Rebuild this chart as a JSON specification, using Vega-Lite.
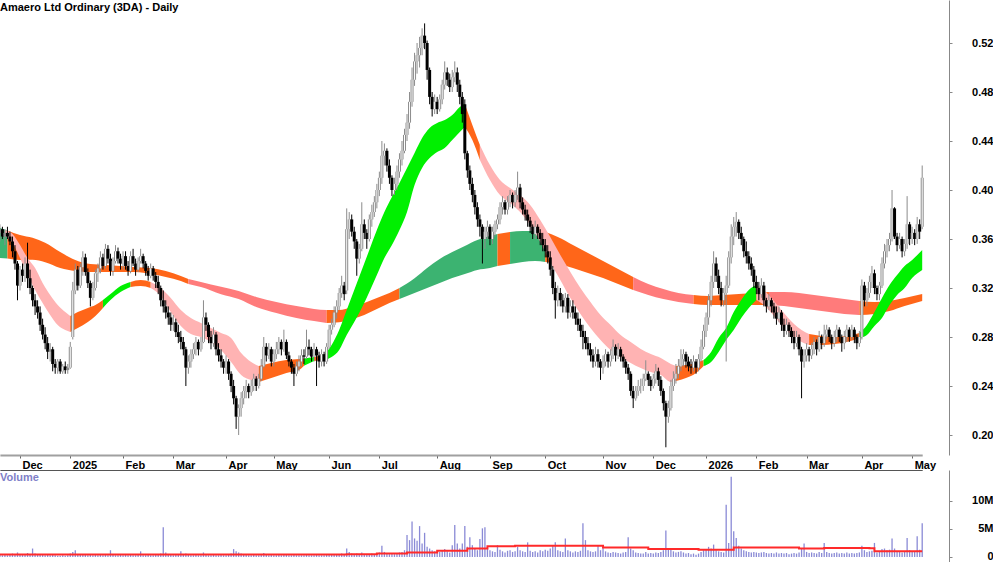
{
"$schema": "https://vega.github.io/schema/vega-lite/v6.json",
"padding": {"left": -5, "top": 0, "right": 0, "bottom": 0},
"background": "white",
"spacing": 0,
"config": {"view": {"stroke": null}, "axis": {"labelFont": "Liberation Sans", "labelFontWeight": "bold", "labelColor": "#000", "labelFontSize": 11, "grid": false, "minExtent": 0, "labelOverlap": false, "labelFlush": false}},
"datasets": {
"p": [
{"d":"2024-11-20","o":0.365,"h":0.372,"l":0.358,"c":0.368,"v":0.4},
{"d":"2024-11-21","o":0.368,"h":0.37,"l":0.36,"c":0.362,"v":0.3},
{"d":"2024-11-22","o":0.362,"h":0.368,"l":0.355,"c":0.365,"v":0.5},
{"d":"2024-11-25","o":0.365,"h":0.37,"l":0.36,"c":0.362,"v":0.3},
{"d":"2024-11-26","o":0.362,"h":0.366,"l":0.355,"c":0.358,"v":0.4},
{"d":"2024-11-27","o":0.358,"h":0.362,"l":0.345,"c":0.35,"v":0.6},
{"d":"2024-11-28","o":0.35,"h":0.355,"l":0.335,"c":0.34,"v":0.5},
{"d":"2024-11-29","o":0.34,"h":0.342,"l":0.31,"c":0.322,"v":0.8},
{"d":"2024-12-02","o":0.322,"h":0.338,"l":0.318,"c":0.335,"v":0.5},
{"d":"2024-12-03","o":0.335,"h":0.34,"l":0.325,"c":0.33,"v":0.4},
{"d":"2024-12-04","o":0.33,"h":0.345,"l":0.325,"c":0.34,"v":0.5},
{"d":"2024-12-05","o":0.34,"h":0.357,"l":0.32,"c":0.328,"v":0.7},
{"d":"2024-12-06","o":0.328,"h":0.335,"l":0.315,"c":0.32,"v":0.5},
{"d":"2024-12-09","o":0.32,"h":0.322,"l":0.305,"c":0.31,"v":1.5},
{"d":"2024-12-10","o":0.31,"h":0.315,"l":0.298,"c":0.305,"v":0.6},
{"d":"2024-12-11","o":0.305,"h":0.31,"l":0.295,"c":0.3,"v":0.4},
{"d":"2024-12-12","o":0.3,"h":0.305,"l":0.285,"c":0.29,"v":0.5},
{"d":"2024-12-13","o":0.29,"h":0.295,"l":0.278,"c":0.282,"v":0.4},
{"d":"2024-12-16","o":0.282,"h":0.288,"l":0.27,"c":0.275,"v":0.3},
{"d":"2024-12-17","o":0.275,"h":0.28,"l":0.262,"c":0.268,"v":0.5},
{"d":"2024-12-18","o":0.268,"h":0.275,"l":0.26,"c":0.27,"v":0.3},
{"d":"2024-12-19","o":0.27,"h":0.272,"l":0.252,"c":0.258,"v":0.4},
{"d":"2024-12-20","o":0.258,"h":0.262,"l":0.25,"c":0.255,"v":0.3},
{"d":"2024-12-23","o":0.255,"h":0.262,"l":0.25,"c":0.26,"v":0.2},
{"d":"2024-12-24","o":0.26,"h":0.262,"l":0.25,"c":0.252,"v":0.2},
{"d":"2024-12-27","o":0.252,"h":0.258,"l":0.25,"c":0.256,"v":0.3},
{"d":"2024-12-30","o":0.256,"h":0.26,"l":0.25,"c":0.253,"v":0.2},
{"d":"2024-12-31","o":0.253,"h":0.258,"l":0.25,"c":0.255,"v":0.3},
{"d":"2025-01-02","o":0.255,"h":0.276,"l":0.254,"c":0.272,"v":0.6},
{"d":"2025-01-03","o":0.28,"h":0.325,"l":0.278,"c":0.318,"v":0.9},
{"d":"2025-01-06","o":0.318,"h":0.34,"l":0.315,"c":0.335,"v":1.2},
{"d":"2025-01-07","o":0.335,"h":0.338,"l":0.318,"c":0.322,"v":0.5},
{"d":"2025-01-08","o":0.322,"h":0.34,"l":0.32,"c":0.337,"v":0.4},
{"d":"2025-01-09","o":0.337,"h":0.35,"l":0.33,"c":0.345,"v":0.5},
{"d":"2025-01-10","o":0.345,"h":0.348,"l":0.33,"c":0.333,"v":0.4},
{"d":"2025-01-13","o":0.333,"h":0.336,"l":0.32,"c":0.324,"v":0.3},
{"d":"2025-01-14","o":0.324,"h":0.326,"l":0.305,"c":0.312,"v":0.5},
{"d":"2025-01-15","o":0.312,"h":0.325,"l":0.31,"c":0.32,"v":0.3},
{"d":"2025-01-16","o":0.32,"h":0.335,"l":0.318,"c":0.332,"v":0.4},
{"d":"2025-01-17","o":0.332,"h":0.34,"l":0.325,"c":0.336,"v":0.3},
{"d":"2025-01-20","o":0.336,"h":0.35,"l":0.332,"c":0.345,"v":0.4},
{"d":"2025-01-21","o":0.345,"h":0.348,"l":0.335,"c":0.338,"v":0.3},
{"d":"2025-01-22","o":0.338,"h":0.356,"l":0.336,"c":0.352,"v":0.5},
{"d":"2025-01-23","o":0.352,"h":0.355,"l":0.34,"c":0.344,"v":0.3},
{"d":"2025-01-24","o":0.344,"h":0.348,"l":0.33,"c":0.334,"v":1.2},
{"d":"2025-01-28","o":0.334,"h":0.345,"l":0.33,"c":0.342,"v":0.4},
{"d":"2025-01-29","o":0.342,"h":0.355,"l":0.34,"c":0.35,"v":0.3},
{"d":"2025-01-30","o":0.35,"h":0.353,"l":0.34,"c":0.344,"v":0.3},
{"d":"2025-01-31","o":0.344,"h":0.348,"l":0.335,"c":0.34,"v":0.4},
{"d":"2025-02-03","o":0.34,"h":0.35,"l":0.335,"c":0.346,"v":0.3},
{"d":"2025-02-04","o":0.346,"h":0.35,"l":0.335,"c":0.338,"v":0.4},
{"d":"2025-02-05","o":0.338,"h":0.342,"l":0.33,"c":0.334,"v":0.3},
{"d":"2025-02-06","o":0.334,"h":0.35,"l":0.332,"c":0.346,"v":0.5},
{"d":"2025-02-07","o":0.346,"h":0.352,"l":0.338,"c":0.34,"v":0.3},
{"d":"2025-02-10","o":0.34,"h":0.344,"l":0.33,"c":0.335,"v":0.3},
{"d":"2025-02-11","o":0.335,"h":0.345,"l":0.333,"c":0.342,"v":0.4},
{"d":"2025-02-12","o":0.342,"h":0.352,"l":0.34,"c":0.346,"v":1.0},
{"d":"2025-02-13","o":0.346,"h":0.348,"l":0.336,"c":0.34,"v":0.3},
{"d":"2025-02-14","o":0.34,"h":0.342,"l":0.33,"c":0.334,"v":0.3},
{"d":"2025-02-17","o":0.334,"h":0.338,"l":0.326,"c":0.33,"v":0.4},
{"d":"2025-02-18","o":0.33,"h":0.34,"l":0.328,"c":0.336,"v":0.3},
{"d":"2025-02-19","o":0.336,"h":0.338,"l":0.326,"c":0.33,"v":0.3},
{"d":"2025-02-20","o":0.33,"h":0.333,"l":0.32,"c":0.325,"v":0.4},
{"d":"2025-02-21","o":0.325,"h":0.33,"l":0.315,"c":0.32,"v":0.5},
{"d":"2025-02-24","o":0.32,"h":0.322,"l":0.305,"c":0.31,"v":0.6},
{"d":"2025-02-25","o":0.31,"h":0.318,"l":0.3,"c":0.305,"v":5.3},
{"d":"2025-02-26","o":0.305,"h":0.31,"l":0.295,"c":0.3,"v":0.8},
{"d":"2025-02-27","o":0.3,"h":0.305,"l":0.29,"c":0.296,"v":0.5},
{"d":"2025-02-28","o":0.296,"h":0.3,"l":0.285,"c":0.29,"v":0.4},
{"d":"2025-03-03","o":0.29,"h":0.298,"l":0.285,"c":0.292,"v":0.3},
{"d":"2025-03-04","o":0.292,"h":0.295,"l":0.28,"c":0.284,"v":0.4},
{"d":"2025-03-05","o":0.284,"h":0.29,"l":0.275,"c":0.28,"v":0.5},
{"d":"2025-03-06","o":0.28,"h":0.285,"l":0.27,"c":0.276,"v":1.0},
{"d":"2025-03-07","o":0.276,"h":0.28,"l":0.265,"c":0.27,"v":0.4},
{"d":"2025-03-10","o":0.27,"h":0.272,"l":0.24,"c":0.255,"v":0.6},
{"d":"2025-03-11","o":0.255,"h":0.265,"l":0.25,"c":0.26,"v":0.4},
{"d":"2025-03-12","o":0.26,"h":0.27,"l":0.255,"c":0.266,"v":0.3},
{"d":"2025-03-13","o":0.266,"h":0.275,"l":0.262,"c":0.27,"v":0.3},
{"d":"2025-03-14","o":0.27,"h":0.28,"l":0.265,"c":0.276,"v":0.4},
{"d":"2025-03-17","o":0.276,"h":0.278,"l":0.265,"c":0.27,"v":0.3},
{"d":"2025-03-18","o":0.27,"h":0.28,"l":0.268,"c":0.276,"v":0.3},
{"d":"2025-03-19","o":0.276,"h":0.31,"l":0.275,"c":0.296,"v":0.8},
{"d":"2025-03-20","o":0.296,"h":0.3,"l":0.285,"c":0.29,"v":0.4},
{"d":"2025-03-21","o":0.29,"h":0.292,"l":0.275,"c":0.28,"v":0.3},
{"d":"2025-03-24","o":0.28,"h":0.285,"l":0.27,"c":0.275,"v":0.3},
{"d":"2025-03-25","o":0.275,"h":0.288,"l":0.272,"c":0.282,"v":0.4},
{"d":"2025-03-26","o":0.282,"h":0.284,"l":0.265,"c":0.27,"v":0.3},
{"d":"2025-03-27","o":0.27,"h":0.275,"l":0.26,"c":0.265,"v":0.3},
{"d":"2025-03-28","o":0.265,"h":0.27,"l":0.255,"c":0.26,"v":0.4},
{"d":"2025-03-31","o":0.26,"h":0.262,"l":0.25,"c":0.255,"v":0.3},
{"d":"2025-04-01","o":0.255,"h":0.265,"l":0.25,"c":0.26,"v":0.3},
{"d":"2025-04-02","o":0.26,"h":0.262,"l":0.245,"c":0.25,"v":0.4},
{"d":"2025-04-03","o":0.25,"h":0.252,"l":0.235,"c":0.24,"v":0.6},
{"d":"2025-04-04","o":0.24,"h":0.245,"l":0.225,"c":0.23,"v":1.4},
{"d":"2025-04-07","o":0.23,"h":0.232,"l":0.205,"c":0.215,"v":1.0},
{"d":"2025-04-08","o":0.215,"h":0.225,"l":0.2,"c":0.222,"v":0.8},
{"d":"2025-04-09","o":0.222,"h":0.235,"l":0.215,"c":0.23,"v":0.6},
{"d":"2025-04-10","o":0.23,"h":0.24,"l":0.225,"c":0.236,"v":0.5},
{"d":"2025-04-11","o":0.236,"h":0.245,"l":0.23,"c":0.24,"v":0.4},
{"d":"2025-04-14","o":0.24,"h":0.242,"l":0.23,"c":0.235,"v":0.3},
{"d":"2025-04-15","o":0.235,"h":0.245,"l":0.232,"c":0.24,"v":0.3},
{"d":"2025-04-16","o":0.24,"h":0.25,"l":0.236,"c":0.246,"v":0.4},
{"d":"2025-04-17","o":0.246,"h":0.248,"l":0.236,"c":0.24,"v":0.3},
{"d":"2025-04-22","o":0.24,"h":0.25,"l":0.238,"c":0.246,"v":0.3},
{"d":"2025-04-23","o":0.246,"h":0.262,"l":0.244,"c":0.256,"v":0.5},
{"d":"2025-04-24","o":0.256,"h":0.28,"l":0.255,"c":0.272,"v":0.7},
{"d":"2025-04-28","o":0.272,"h":0.275,"l":0.26,"c":0.265,"v":0.4},
{"d":"2025-04-29","o":0.265,"h":0.275,"l":0.262,"c":0.27,"v":0.3},
{"d":"2025-04-30","o":0.27,"h":0.272,"l":0.256,"c":0.26,"v":0.4},
{"d":"2025-05-01","o":0.26,"h":0.27,"l":0.256,"c":0.266,"v":0.3},
{"d":"2025-05-02","o":0.266,"h":0.276,"l":0.262,"c":0.27,"v":0.3},
{"d":"2025-05-05","o":0.27,"h":0.28,"l":0.266,"c":0.276,"v":0.4},
{"d":"2025-05-06","o":0.276,"h":0.278,"l":0.265,"c":0.27,"v":0.3},
{"d":"2025-05-07","o":0.27,"h":0.286,"l":0.268,"c":0.276,"v":0.5},
{"d":"2025-05-08","o":0.276,"h":0.278,"l":0.262,"c":0.265,"v":0.4},
{"d":"2025-05-09","o":0.265,"h":0.268,"l":0.256,"c":0.26,"v":0.3},
{"d":"2025-05-12","o":0.26,"h":0.262,"l":0.25,"c":0.255,"v":0.3},
{"d":"2025-05-13","o":0.255,"h":0.258,"l":0.24,"c":0.25,"v":0.4},
{"d":"2025-05-14","o":0.25,"h":0.26,"l":0.248,"c":0.256,"v":0.3},
{"d":"2025-05-15","o":0.256,"h":0.265,"l":0.252,"c":0.26,"v":0.3},
{"d":"2025-05-16","o":0.26,"h":0.27,"l":0.256,"c":0.265,"v":0.3},
{"d":"2025-05-19","o":0.265,"h":0.27,"l":0.258,"c":0.264,"v":0.3},
{"d":"2025-05-20","o":0.264,"h":0.286,"l":0.262,"c":0.272,"v":0.5},
{"d":"2025-05-21","o":0.272,"h":0.278,"l":0.265,"c":0.27,"v":0.3},
{"d":"2025-05-22","o":0.27,"h":0.272,"l":0.26,"c":0.264,"v":0.3},
{"d":"2025-05-23","o":0.264,"h":0.275,"l":0.26,"c":0.27,"v":0.3},
{"d":"2025-05-26","o":0.27,"h":0.272,"l":0.24,"c":0.265,"v":0.4},
{"d":"2025-05-27","o":0.265,"h":0.268,"l":0.255,"c":0.26,"v":0.3},
{"d":"2025-05-28","o":0.26,"h":0.27,"l":0.256,"c":0.266,"v":0.3},
{"d":"2025-05-29","o":0.266,"h":0.268,"l":0.256,"c":0.26,"v":0.3},
{"d":"2025-05-30","o":0.26,"h":0.275,"l":0.258,"c":0.272,"v":0.4},
{"d":"2025-06-02","o":0.272,"h":0.29,"l":0.27,"c":0.286,"v":0.5},
{"d":"2025-06-03","o":0.286,"h":0.295,"l":0.282,"c":0.29,"v":0.4},
{"d":"2025-06-04","o":0.29,"h":0.305,"l":0.288,"c":0.3,"v":0.5},
{"d":"2025-06-05","o":0.3,"h":0.31,"l":0.295,"c":0.305,"v":0.4},
{"d":"2025-06-06","o":0.305,"h":0.32,"l":0.302,"c":0.316,"v":0.5},
{"d":"2025-06-10","o":0.316,"h":0.33,"l":0.312,"c":0.322,"v":0.6},
{"d":"2025-06-11","o":0.322,"h":0.325,"l":0.31,"c":0.315,"v":0.4},
{"d":"2025-06-12","o":0.318,"h":0.385,"l":0.315,"c":0.368,"v":1.5},
{"d":"2025-06-13","o":0.368,"h":0.382,"l":0.36,"c":0.376,"v":0.9},
{"d":"2025-06-16","o":0.376,"h":0.38,"l":0.362,"c":0.366,"v":0.6},
{"d":"2025-06-17","o":0.366,"h":0.37,"l":0.352,"c":0.358,"v":0.5},
{"d":"2025-06-18","o":0.358,"h":0.36,"l":0.33,"c":0.344,"v":0.6},
{"d":"2025-06-19","o":0.344,"h":0.356,"l":0.34,"c":0.352,"v":0.4},
{"d":"2025-06-20","o":0.352,"h":0.39,"l":0.35,"c":0.372,"v":0.8},
{"d":"2025-06-23","o":0.372,"h":0.376,"l":0.36,"c":0.365,"v":0.5},
{"d":"2025-06-24","o":0.365,"h":0.368,"l":0.352,"c":0.36,"v":0.4},
{"d":"2025-06-25","o":0.36,"h":0.38,"l":0.358,"c":0.376,"v":0.5},
{"d":"2025-06-26","o":0.376,"h":0.388,"l":0.37,"c":0.382,"v":0.6},
{"d":"2025-06-27","o":0.382,"h":0.395,"l":0.378,"c":0.39,"v":0.5},
{"d":"2025-06-30","o":0.39,"h":0.405,"l":0.385,"c":0.4,"v":0.7},
{"d":"2025-07-01","o":0.4,"h":0.415,"l":0.395,"c":0.41,"v":0.8},
{"d":"2025-07-02","o":0.41,"h":0.44,"l":0.405,"c":0.428,"v":2.0},
{"d":"2025-07-03","o":0.428,"h":0.438,"l":0.42,"c":0.432,"v":0.9},
{"d":"2025-07-04","o":0.432,"h":0.434,"l":0.415,"c":0.42,"v":0.6},
{"d":"2025-07-07","o":0.42,"h":0.425,"l":0.405,"c":0.41,"v":0.5},
{"d":"2025-07-08","o":0.41,"h":0.412,"l":0.395,"c":0.4,"v":0.7},
{"d":"2025-07-09","o":0.4,"h":0.41,"l":0.396,"c":0.405,"v":0.5},
{"d":"2025-07-10","o":0.405,"h":0.42,"l":0.4,"c":0.415,"v":0.6},
{"d":"2025-07-11","o":0.415,"h":0.43,"l":0.41,"c":0.425,"v":0.8},
{"d":"2025-07-14","o":0.425,"h":0.44,"l":0.42,"c":0.432,"v":0.9},
{"d":"2025-07-15","o":0.432,"h":0.45,"l":0.43,"c":0.445,"v":1.2},
{"d":"2025-07-16","o":0.445,"h":0.462,"l":0.44,"c":0.455,"v":3.9},
{"d":"2025-07-17","o":0.455,"h":0.48,"l":0.45,"c":0.472,"v":3.0},
{"d":"2025-07-18","o":0.472,"h":0.5,"l":0.468,"c":0.49,"v":6.3},
{"d":"2025-07-21","o":0.49,"h":0.512,"l":0.485,"c":0.505,"v":3.3},
{"d":"2025-07-22","o":0.505,"h":0.52,"l":0.495,"c":0.51,"v":2.9},
{"d":"2025-07-23","o":0.51,"h":0.525,"l":0.5,"c":0.516,"v":5.5},
{"d":"2025-07-24","o":0.516,"h":0.532,"l":0.51,"c":0.526,"v":2.4},
{"d":"2025-07-25","o":0.526,"h":0.536,"l":0.515,"c":0.52,"v":4.3},
{"d":"2025-07-28","o":0.52,"h":0.522,"l":0.49,"c":0.498,"v":1.8},
{"d":"2025-07-29","o":0.498,"h":0.5,"l":0.47,"c":0.476,"v":1.5},
{"d":"2025-07-30","o":0.476,"h":0.48,"l":0.46,"c":0.466,"v":1.2},
{"d":"2025-07-31","o":0.466,"h":0.478,"l":0.462,"c":0.472,"v":1.0},
{"d":"2025-08-01","o":0.472,"h":0.476,"l":0.462,"c":0.466,"v":0.8},
{"d":"2025-08-04","o":0.466,"h":0.478,"l":0.464,"c":0.474,"v":0.9},
{"d":"2025-08-05","o":0.474,"h":0.49,"l":0.47,"c":0.486,"v":1.1},
{"d":"2025-08-06","o":0.486,"h":0.505,"l":0.482,"c":0.496,"v":1.4},
{"d":"2025-08-07","o":0.496,"h":0.5,"l":0.485,"c":0.49,"v":1.0},
{"d":"2025-08-08","o":0.49,"h":0.495,"l":0.48,"c":0.484,"v":0.8},
{"d":"2025-08-11","o":0.484,"h":0.498,"l":0.48,"c":0.492,"v":2.1},
{"d":"2025-08-12","o":0.492,"h":0.505,"l":0.488,"c":0.496,"v":5.7},
{"d":"2025-08-13","o":0.496,"h":0.5,"l":0.48,"c":0.486,"v":2.4},
{"d":"2025-08-14","o":0.486,"h":0.49,"l":0.47,"c":0.476,"v":1.5},
{"d":"2025-08-15","o":0.476,"h":0.48,"l":0.455,"c":0.462,"v":2.4},
{"d":"2025-08-18","o":0.47,"h":0.474,"l":0.425,"c":0.43,"v":5.5},
{"d":"2025-08-19","o":0.43,"h":0.432,"l":0.41,"c":0.416,"v":1.8},
{"d":"2025-08-20","o":0.416,"h":0.42,"l":0.4,"c":0.405,"v":3.5},
{"d":"2025-08-21","o":0.405,"h":0.41,"l":0.39,"c":0.396,"v":2.1},
{"d":"2025-08-22","o":0.396,"h":0.4,"l":0.38,"c":0.386,"v":1.5},
{"d":"2025-08-25","o":0.386,"h":0.39,"l":0.37,"c":0.376,"v":1.2},
{"d":"2025-08-26","o":0.376,"h":0.38,"l":0.362,"c":0.37,"v":3.2},
{"d":"2025-08-27","o":0.37,"h":0.372,"l":0.34,"c":0.36,"v":5.1},
{"d":"2025-08-28","o":0.36,"h":0.37,"l":0.352,"c":0.366,"v":5.3},
{"d":"2025-08-29","o":0.366,"h":0.375,"l":0.36,"c":0.37,"v":1.5},
{"d":"2025-09-01","o":0.37,"h":0.372,"l":0.355,"c":0.36,"v":1.2},
{"d":"2025-09-02","o":0.36,"h":0.37,"l":0.356,"c":0.366,"v":1.0},
{"d":"2025-09-03","o":0.366,"h":0.375,"l":0.362,"c":0.372,"v":0.9},
{"d":"2025-09-04","o":0.372,"h":0.38,"l":0.368,"c":0.376,"v":2.1},
{"d":"2025-09-05","o":0.376,"h":0.39,"l":0.372,"c":0.386,"v":1.3},
{"d":"2025-09-08","o":0.386,"h":0.395,"l":0.38,"c":0.39,"v":1.0},
{"d":"2025-09-09","o":0.39,"h":0.392,"l":0.38,"c":0.384,"v":0.8},
{"d":"2025-09-10","o":0.384,"h":0.395,"l":0.38,"c":0.39,"v":1.1},
{"d":"2025-09-11","o":0.39,"h":0.4,"l":0.386,"c":0.396,"v":1.2},
{"d":"2025-09-12","o":0.396,"h":0.398,"l":0.385,"c":0.39,"v":0.9},
{"d":"2025-09-15","o":0.39,"h":0.4,"l":0.386,"c":0.396,"v":1.0},
{"d":"2025-09-16","o":0.396,"h":0.415,"l":0.392,"c":0.402,"v":1.8},
{"d":"2025-09-17","o":0.402,"h":0.405,"l":0.385,"c":0.39,"v":1.2},
{"d":"2025-09-18","o":0.39,"h":0.394,"l":0.38,"c":0.384,"v":1.0},
{"d":"2025-09-19","o":0.384,"h":0.388,"l":0.375,"c":0.38,"v":0.9},
{"d":"2025-09-22","o":0.38,"h":0.384,"l":0.37,"c":0.375,"v":2.6},
{"d":"2025-09-23","o":0.375,"h":0.378,"l":0.365,"c":0.37,"v":1.1},
{"d":"2025-09-24","o":0.37,"h":0.372,"l":0.36,"c":0.364,"v":0.9},
{"d":"2025-09-25","o":0.364,"h":0.375,"l":0.36,"c":0.37,"v":1.0},
{"d":"2025-09-26","o":0.37,"h":0.372,"l":0.36,"c":0.365,"v":0.8},
{"d":"2025-09-29","o":0.365,"h":0.368,"l":0.355,"c":0.36,"v":1.2},
{"d":"2025-09-30","o":0.36,"h":0.365,"l":0.35,"c":0.355,"v":1.0},
{"d":"2025-10-01","o":0.355,"h":0.36,"l":0.345,"c":0.35,"v":1.3},
{"d":"2025-10-02","o":0.35,"h":0.355,"l":0.34,"c":0.345,"v":1.1},
{"d":"2025-10-03","o":0.345,"h":0.35,"l":0.33,"c":0.335,"v":1.5},
{"d":"2025-10-06","o":0.335,"h":0.338,"l":0.315,"c":0.32,"v":2.1},
{"d":"2025-10-07","o":0.32,"h":0.325,"l":0.295,"c":0.31,"v":2.6},
{"d":"2025-10-08","o":0.31,"h":0.322,"l":0.305,"c":0.316,"v":1.2},
{"d":"2025-10-09","o":0.316,"h":0.32,"l":0.305,"c":0.31,"v":1.0},
{"d":"2025-10-10","o":0.31,"h":0.315,"l":0.3,"c":0.305,"v":0.9},
{"d":"2025-10-13","o":0.305,"h":0.316,"l":0.3,"c":0.312,"v":3.3},
{"d":"2025-10-14","o":0.312,"h":0.315,"l":0.295,"c":0.3,"v":1.2},
{"d":"2025-10-15","o":0.3,"h":0.31,"l":0.296,"c":0.305,"v":1.0},
{"d":"2025-10-16","o":0.305,"h":0.31,"l":0.295,"c":0.3,"v":0.8},
{"d":"2025-10-17","o":0.3,"h":0.305,"l":0.29,"c":0.295,"v":1.0},
{"d":"2025-10-20","o":0.295,"h":0.3,"l":0.285,"c":0.29,"v":0.9},
{"d":"2025-10-21","o":0.29,"h":0.295,"l":0.28,"c":0.285,"v":1.1},
{"d":"2025-10-22","o":0.285,"h":0.29,"l":0.27,"c":0.28,"v":6.0},
{"d":"2025-10-23","o":0.28,"h":0.285,"l":0.27,"c":0.275,"v":3.0},
{"d":"2025-10-24","o":0.275,"h":0.28,"l":0.265,"c":0.27,"v":1.2},
{"d":"2025-10-27","o":0.27,"h":0.275,"l":0.26,"c":0.265,"v":1.0},
{"d":"2025-10-28","o":0.265,"h":0.27,"l":0.255,"c":0.26,"v":0.9},
{"d":"2025-10-29","o":0.26,"h":0.272,"l":0.256,"c":0.266,"v":1.0},
{"d":"2025-10-30","o":0.266,"h":0.27,"l":0.255,"c":0.26,"v":2.1},
{"d":"2025-10-31","o":0.26,"h":0.262,"l":0.245,"c":0.255,"v":1.2},
{"d":"2025-11-03","o":0.255,"h":0.265,"l":0.25,"c":0.26,"v":2.0},
{"d":"2025-11-04","o":0.26,"h":0.27,"l":0.256,"c":0.266,"v":1.0},
{"d":"2025-11-05","o":0.266,"h":0.268,"l":0.255,"c":0.26,"v":0.8},
{"d":"2025-11-06","o":0.26,"h":0.27,"l":0.256,"c":0.265,"v":0.7},
{"d":"2025-11-07","o":0.265,"h":0.278,"l":0.262,"c":0.272,"v":0.9},
{"d":"2025-11-10","o":0.272,"h":0.274,"l":0.26,"c":0.265,"v":0.8},
{"d":"2025-11-11","o":0.265,"h":0.275,"l":0.262,"c":0.27,"v":0.7},
{"d":"2025-11-12","o":0.27,"h":0.272,"l":0.26,"c":0.264,"v":0.6},
{"d":"2025-11-13","o":0.264,"h":0.266,"l":0.255,"c":0.26,"v":0.8},
{"d":"2025-11-14","o":0.26,"h":0.262,"l":0.25,"c":0.255,"v":0.9},
{"d":"2025-11-17","o":0.255,"h":0.258,"l":0.245,"c":0.25,"v":3.5},
{"d":"2025-11-18","o":0.25,"h":0.252,"l":0.232,"c":0.236,"v":1.5},
{"d":"2025-11-19","o":0.236,"h":0.24,"l":0.222,"c":0.23,"v":1.2},
{"d":"2025-11-20","o":0.23,"h":0.24,"l":0.228,"c":0.236,"v":0.8},
{"d":"2025-11-21","o":0.236,"h":0.245,"l":0.232,"c":0.24,"v":0.7},
{"d":"2025-11-24","o":0.24,"h":0.246,"l":0.234,"c":0.24,"v":0.6},
{"d":"2025-11-25","o":0.24,"h":0.25,"l":0.236,"c":0.246,"v":0.6},
{"d":"2025-11-26","o":0.246,"h":0.261,"l":0.244,"c":0.25,"v":0.9},
{"d":"2025-11-27","o":0.25,"h":0.252,"l":0.24,"c":0.245,"v":0.6},
{"d":"2025-11-28","o":0.245,"h":0.248,"l":0.236,"c":0.24,"v":0.7},
{"d":"2025-12-01","o":0.24,"h":0.25,"l":0.238,"c":0.246,"v":0.6},
{"d":"2025-12-02","o":0.246,"h":0.258,"l":0.242,"c":0.252,"v":0.8},
{"d":"2025-12-03","o":0.252,"h":0.255,"l":0.24,"c":0.245,"v":0.7},
{"d":"2025-12-04","o":0.245,"h":0.248,"l":0.232,"c":0.236,"v":0.9},
{"d":"2025-12-05","o":0.236,"h":0.238,"l":0.22,"c":0.226,"v":1.2},
{"d":"2025-12-08","o":0.226,"h":0.228,"l":0.19,"c":0.215,"v":4.7},
{"d":"2025-12-09","o":0.215,"h":0.228,"l":0.21,"c":0.222,"v":1.5},
{"d":"2025-12-10","o":0.222,"h":0.245,"l":0.22,"c":0.24,"v":1.3},
{"d":"2025-12-11","o":0.24,"h":0.252,"l":0.236,"c":0.246,"v":1.0},
{"d":"2025-12-12","o":0.246,"h":0.258,"l":0.242,"c":0.25,"v":0.8},
{"d":"2025-12-15","o":0.25,"h":0.262,"l":0.246,"c":0.256,"v":0.9},
{"d":"2025-12-16","o":0.256,"h":0.27,"l":0.252,"c":0.262,"v":1.0},
{"d":"2025-12-17","o":0.262,"h":0.27,"l":0.256,"c":0.266,"v":0.8},
{"d":"2025-12-18","o":0.266,"h":0.268,"l":0.255,"c":0.26,"v":0.6},
{"d":"2025-12-19","o":0.26,"h":0.264,"l":0.252,"c":0.256,"v":0.7},
{"d":"2025-12-22","o":0.256,"h":0.262,"l":0.25,"c":0.255,"v":0.5},
{"d":"2025-12-23","o":0.255,"h":0.265,"l":0.252,"c":0.26,"v":0.6},
{"d":"2025-12-24","o":0.26,"h":0.262,"l":0.25,"c":0.255,"v":0.4},
{"d":"2025-12-29","o":0.255,"h":0.266,"l":0.252,"c":0.262,"v":0.6},
{"d":"2025-12-30","o":0.262,"h":0.278,"l":0.26,"c":0.272,"v":0.9},
{"d":"2025-12-31","o":0.272,"h":0.29,"l":0.27,"c":0.285,"v":1.2},
{"d":"2026-01-02","o":0.285,"h":0.3,"l":0.28,"c":0.296,"v":1.3},
{"d":"2026-01-05","o":0.296,"h":0.315,"l":0.29,"c":0.31,"v":1.8},
{"d":"2026-01-06","o":0.31,"h":0.33,"l":0.305,"c":0.325,"v":1.5},
{"d":"2026-01-07","o":0.325,"h":0.35,"l":0.32,"c":0.34,"v":2.2},
{"d":"2026-01-08","o":0.34,"h":0.345,"l":0.325,"c":0.33,"v":1.2},
{"d":"2026-01-09","o":0.33,"h":0.335,"l":0.315,"c":0.32,"v":1.0},
{"d":"2026-01-12","o":0.32,"h":0.325,"l":0.305,"c":0.31,"v":0.9},
{"d":"2026-01-13","o":0.31,"h":0.32,"l":0.305,"c":0.316,"v":0.8},
{"d":"2026-01-14","o":0.316,"h":0.33,"l":0.26,"c":0.322,"v":9.3},
{"d":"2026-01-15","o":0.322,"h":0.35,"l":0.32,"c":0.345,"v":2.5},
{"d":"2026-01-16","o":0.345,"h":0.372,"l":0.34,"c":0.362,"v":14.3},
{"d":"2026-01-19","o":0.362,"h":0.378,"l":0.355,"c":0.37,"v":4.6},
{"d":"2026-01-20","o":0.37,"h":0.382,"l":0.362,"c":0.374,"v":3.4},
{"d":"2026-01-21","o":0.374,"h":0.376,"l":0.36,"c":0.365,"v":2.0},
{"d":"2026-01-22","o":0.365,"h":0.37,"l":0.355,"c":0.36,"v":1.5},
{"d":"2026-01-23","o":0.36,"h":0.362,"l":0.345,"c":0.35,"v":1.2},
{"d":"2026-01-27","o":0.35,"h":0.358,"l":0.34,"c":0.346,"v":1.0},
{"d":"2026-01-28","o":0.346,"h":0.35,"l":0.335,"c":0.34,"v":0.9},
{"d":"2026-01-29","o":0.34,"h":0.345,"l":0.33,"c":0.335,"v":0.8},
{"d":"2026-01-30","o":0.335,"h":0.338,"l":0.32,"c":0.325,"v":0.9},
{"d":"2026-02-02","o":0.325,"h":0.33,"l":0.315,"c":0.32,"v":0.8},
{"d":"2026-02-03","o":0.32,"h":0.325,"l":0.31,"c":0.315,"v":0.7},
{"d":"2026-02-04","o":0.315,"h":0.328,"l":0.312,"c":0.322,"v":0.8},
{"d":"2026-02-05","o":0.322,"h":0.325,"l":0.305,"c":0.31,"v":0.9},
{"d":"2026-02-06","o":0.31,"h":0.312,"l":0.3,"c":0.305,"v":0.7},
{"d":"2026-02-09","o":0.305,"h":0.315,"l":0.302,"c":0.31,"v":0.6},
{"d":"2026-02-10","o":0.31,"h":0.312,"l":0.3,"c":0.305,"v":0.7},
{"d":"2026-02-11","o":0.305,"h":0.308,"l":0.295,"c":0.3,"v":0.6},
{"d":"2026-02-12","o":0.3,"h":0.305,"l":0.29,"c":0.295,"v":0.8},
{"d":"2026-02-13","o":0.295,"h":0.305,"l":0.292,"c":0.3,"v":0.6},
{"d":"2026-02-16","o":0.3,"h":0.302,"l":0.285,"c":0.29,"v":0.7},
{"d":"2026-02-17","o":0.29,"h":0.295,"l":0.28,"c":0.285,"v":0.6},
{"d":"2026-02-18","o":0.285,"h":0.295,"l":0.282,"c":0.29,"v":0.7},
{"d":"2026-02-19","o":0.29,"h":0.292,"l":0.28,"c":0.285,"v":0.5},
{"d":"2026-02-20","o":0.285,"h":0.288,"l":0.275,"c":0.28,"v":0.6},
{"d":"2026-02-23","o":0.28,"h":0.285,"l":0.27,"c":0.275,"v":0.7},
{"d":"2026-02-24","o":0.275,"h":0.285,"l":0.272,"c":0.28,"v":0.6},
{"d":"2026-02-25","o":0.28,"h":0.282,"l":0.265,"c":0.27,"v":0.8},
{"d":"2026-02-26","o":0.27,"h":0.272,"l":0.23,"c":0.26,"v":1.6},
{"d":"2026-02-27","o":0.26,"h":0.27,"l":0.255,"c":0.265,"v":2.4},
{"d":"2026-03-02","o":0.265,"h":0.275,"l":0.26,"c":0.27,"v":0.9},
{"d":"2026-03-03","o":0.27,"h":0.272,"l":0.26,"c":0.265,"v":0.7},
{"d":"2026-03-04","o":0.265,"h":0.275,"l":0.262,"c":0.27,"v":0.8},
{"d":"2026-03-05","o":0.27,"h":0.28,"l":0.266,"c":0.276,"v":0.7},
{"d":"2026-03-06","o":0.276,"h":0.278,"l":0.265,"c":0.27,"v":0.6},
{"d":"2026-03-09","o":0.27,"h":0.285,"l":0.268,"c":0.28,"v":0.9},
{"d":"2026-03-10","o":0.28,"h":0.282,"l":0.27,"c":0.275,"v":0.7},
{"d":"2026-03-11","o":0.275,"h":0.29,"l":0.272,"c":0.282,"v":2.5},
{"d":"2026-03-12","o":0.282,"h":0.29,"l":0.278,"c":0.286,"v":0.9},
{"d":"2026-03-13","o":0.286,"h":0.288,"l":0.276,"c":0.28,"v":0.7},
{"d":"2026-03-16","o":0.28,"h":0.282,"l":0.27,"c":0.275,"v":0.6},
{"d":"2026-03-17","o":0.275,"h":0.285,"l":0.272,"c":0.28,"v":0.7},
{"d":"2026-03-18","o":0.28,"h":0.29,"l":0.276,"c":0.286,"v":0.8},
{"d":"2026-03-19","o":0.286,"h":0.288,"l":0.276,"c":0.28,"v":0.6},
{"d":"2026-03-20","o":0.28,"h":0.282,"l":0.268,"c":0.275,"v":0.7},
{"d":"2026-03-23","o":0.275,"h":0.285,"l":0.27,"c":0.28,"v":0.6},
{"d":"2026-03-24","o":0.28,"h":0.29,"l":0.276,"c":0.286,"v":0.8},
{"d":"2026-03-25","o":0.286,"h":0.288,"l":0.276,"c":0.28,"v":0.6},
{"d":"2026-03-26","o":0.28,"h":0.29,"l":0.278,"c":0.286,"v":0.7},
{"d":"2026-03-27","o":0.286,"h":0.288,"l":0.275,"c":0.28,"v":0.6},
{"d":"2026-03-30","o":0.28,"h":0.282,"l":0.27,"c":0.275,"v":0.7},
{"d":"2026-03-31","o":0.275,"h":0.285,"l":0.272,"c":0.28,"v":0.8},
{"d":"2026-04-01","o":0.28,"h":0.327,"l":0.278,"c":0.322,"v":2.0},
{"d":"2026-04-02","o":0.322,"h":0.325,"l":0.305,"c":0.31,"v":1.2},
{"d":"2026-04-07","o":0.31,"h":0.32,"l":0.305,"c":0.316,"v":0.9},
{"d":"2026-04-08","o":0.316,"h":0.33,"l":0.312,"c":0.325,"v":1.0},
{"d":"2026-04-09","o":0.325,"h":0.338,"l":0.32,"c":0.332,"v":1.1},
{"d":"2026-04-10","o":0.332,"h":0.335,"l":0.315,"c":0.32,"v":2.5},
{"d":"2026-04-13","o":0.32,"h":0.322,"l":0.31,"c":0.315,"v":0.8},
{"d":"2026-04-14","o":0.315,"h":0.325,"l":0.31,"c":0.322,"v":0.9},
{"d":"2026-04-15","o":0.322,"h":0.345,"l":0.32,"c":0.34,"v":1.4},
{"d":"2026-04-16","o":0.34,"h":0.356,"l":0.336,"c":0.35,"v":1.5},
{"d":"2026-04-17","o":0.35,"h":0.36,"l":0.345,"c":0.355,"v":1.2},
{"d":"2026-04-20","o":0.355,"h":0.365,"l":0.35,"c":0.36,"v":1.3},
{"d":"2026-04-21","o":0.36,"h":0.4,"l":0.358,"c":0.385,"v":3.3},
{"d":"2026-04-22","o":0.385,"h":0.386,"l":0.36,"c":0.362,"v":1.5},
{"d":"2026-04-23","o":0.362,"h":0.365,"l":0.35,"c":0.355,"v":1.0},
{"d":"2026-04-24","o":0.355,"h":0.365,"l":0.352,"c":0.36,"v":0.9},
{"d":"2026-04-27","o":0.36,"h":0.362,"l":0.345,"c":0.35,"v":0.8},
{"d":"2026-04-28","o":0.35,"h":0.36,"l":0.346,"c":0.356,"v":0.9},
{"d":"2026-04-29","o":0.356,"h":0.395,"l":0.352,"c":0.372,"v":3.4},
{"d":"2026-04-30","o":0.372,"h":0.374,"l":0.355,"c":0.36,"v":1.2},
{"d":"2026-05-01","o":0.36,"h":0.37,"l":0.356,"c":0.365,"v":1.0},
{"d":"2026-05-04","o":0.365,"h":0.368,"l":0.355,"c":0.36,"v":0.9},
{"d":"2026-05-05","o":0.36,"h":0.378,"l":0.356,"c":0.372,"v":3.7},
{"d":"2026-05-06","o":0.372,"h":0.376,"l":0.36,"c":0.366,"v":1.3},
{"d":"2026-05-07","o":0.37,"h":0.42,"l":0.368,"c":0.41,"v":6.0}
],
"b": [
{"d":"2024-11-20","s":1,"t":"long up","top":0.369,"bot":0.3445},
{"d":"2024-11-25","s":1,"t":"long up","top":0.367,"bot":0.344},
{"d":"2024-11-25","s":2,"t":"long flat","top":0.367,"bot":0.344},
{"d":"2024-12-02","s":2,"t":"long flat","top":0.3633,"bot":0.3429},
{"d":"2024-12-09","s":2,"t":"long flat","top":0.361,"bot":0.343},
{"d":"2024-12-16","s":2,"t":"long flat","top":0.357,"bot":0.341},
{"d":"2024-12-24","s":2,"t":"long flat","top":0.3494,"bot":0.3363},
{"d":"2025-01-06","s":2,"t":"long flat","top":0.3429,"bot":0.3339},
{"d":"2025-01-14","s":2,"t":"long flat","top":0.3396,"bot":0.3331},
{"d":"2025-01-22","s":2,"t":"long flat","top":0.3388,"bot":0.333},
{"d":"2025-01-31","s":2,"t":"long flat","top":0.338,"bot":0.333},
{"d":"2025-02-10","s":2,"t":"long flat","top":0.337,"bot":0.333},
{"d":"2025-02-18","s":2,"t":"long flat","top":0.3363,"bot":0.3314},
{"d":"2025-02-26","s":2,"t":"long flat","top":0.3339,"bot":0.329},
{"d":"2025-03-06","s":2,"t":"long flat","top":0.3298,"bot":0.3257},
{"d":"2025-03-11","s":2,"t":"long flat","top":0.3273,"bot":0.3233},
{"d":"2025-03-11","s":3,"t":"long down","top":0.3273,"bot":0.3233},
{"d":"2025-03-18","s":3,"t":"long down","top":0.3249,"bot":0.3208},
{"d":"2025-03-28","s":3,"t":"long down","top":0.321,"bot":0.315},
{"d":"2025-04-08","s":3,"t":"long down","top":0.3176,"bot":0.311},
{"d":"2025-04-17","s":3,"t":"long down","top":0.3127,"bot":0.3045},
{"d":"2025-05-02","s":3,"t":"long down","top":0.3086,"bot":0.2996},
{"d":"2025-05-14","s":3,"t":"long down","top":0.3053,"bot":0.2955},
{"d":"2025-05-23","s":3,"t":"long down","top":0.3029,"bot":0.293},
{"d":"2025-05-30","s":3,"t":"long down","top":0.302,"bot":0.2914},
{"d":"2025-05-30","s":4,"t":"long flat","top":0.302,"bot":0.2914},
{"d":"2025-06-06","s":4,"t":"long flat","top":0.302,"bot":0.292},
{"d":"2025-06-16","s":4,"t":"long flat","top":0.3045,"bot":0.2947},
{"d":"2025-06-23","s":4,"t":"long flat","top":0.3078,"bot":0.298},
{"d":"2025-06-30","s":4,"t":"long flat","top":0.3118,"bot":0.3029},
{"d":"2025-07-07","s":4,"t":"long flat","top":0.3159,"bot":0.3078},
{"d":"2025-07-11","s":4,"t":"long flat","top":0.32,"bot":0.311},
{"d":"2025-07-11","s":5,"t":"long up","top":0.32,"bot":0.311},
{"d":"2025-07-21","s":5,"t":"long up","top":0.328,"bot":0.316},
{"d":"2025-07-28","s":5,"t":"long up","top":0.3363,"bot":0.32},
{"d":"2025-08-04","s":5,"t":"long up","top":0.3437,"bot":0.3241},
{"d":"2025-08-11","s":5,"t":"long up","top":0.3494,"bot":0.3282},
{"d":"2025-08-18","s":5,"t":"long up","top":0.3543,"bot":0.3314},
{"d":"2025-08-25","s":5,"t":"long up","top":0.3592,"bot":0.3347},
{"d":"2025-09-01","s":5,"t":"long up","top":0.3624,"bot":0.3363},
{"d":"2025-09-04","s":5,"t":"long up","top":0.364,"bot":0.338},
{"d":"2025-09-04","s":6,"t":"long flat","top":0.364,"bot":0.338},
{"d":"2025-09-11","s":6,"t":"long flat","top":0.3657,"bot":0.3396},
{"d":"2025-09-11","s":7,"t":"long up","top":0.3657,"bot":0.3396},
{"d":"2025-09-18","s":7,"t":"long up","top":0.3665,"bot":0.3412},
{"d":"2025-09-25","s":7,"t":"long up","top":0.3665,"bot":0.342},
{"d":"2025-10-01","s":7,"t":"long up","top":0.3657,"bot":0.3412},
{"d":"2025-10-01","s":8,"t":"long flat","top":0.3657,"bot":0.3412},
{"d":"2025-10-08","s":8,"t":"long flat","top":0.3616,"bot":0.3396},
{"d":"2025-10-16","s":8,"t":"long flat","top":0.3551,"bot":0.3363},
{"d":"2025-10-24","s":8,"t":"long flat","top":0.3486,"bot":0.3322},
{"d":"2025-11-03","s":8,"t":"long flat","top":0.342,"bot":0.3282},
{"d":"2025-11-11","s":8,"t":"long flat","top":0.3355,"bot":0.3233},
{"d":"2025-11-19","s":8,"t":"long flat","top":0.329,"bot":0.3184},
{"d":"2025-11-19","s":9,"t":"long down","top":0.329,"bot":0.3184},
{"d":"2025-11-27","s":9,"t":"long down","top":0.3233,"bot":0.3143},
{"d":"2025-12-05","s":9,"t":"long down","top":0.3192,"bot":0.311},
{"d":"2025-12-15","s":9,"t":"long down","top":0.3159,"bot":0.3086},
{"d":"2025-12-23","s":9,"t":"long down","top":0.3143,"bot":0.307},
{"d":"2025-12-23","s":10,"t":"long flat","top":0.3143,"bot":0.307},
{"d":"2026-01-05","s":10,"t":"long flat","top":0.3135,"bot":0.3061},
{"d":"2026-01-13","s":10,"t":"long flat","top":0.3143,"bot":0.3061},
{"d":"2026-01-21","s":10,"t":"long flat","top":0.3151,"bot":0.3061},
{"d":"2026-01-30","s":10,"t":"long flat","top":0.3159,"bot":0.3061},
{"d":"2026-02-09","s":10,"t":"long flat","top":0.3167,"bot":0.3061},
{"d":"2026-02-09","s":11,"t":"long down","top":0.3167,"bot":0.3061},
{"d":"2026-02-17","s":11,"t":"long down","top":0.3167,"bot":0.3053},
{"d":"2026-02-25","s":11,"t":"long down","top":0.3159,"bot":0.3037},
{"d":"2026-03-05","s":11,"t":"long down","top":0.3143,"bot":0.302},
{"d":"2026-03-13","s":11,"t":"long down","top":0.3127,"bot":0.3004},
{"d":"2026-03-23","s":11,"t":"long down","top":0.311,"bot":0.2988},
{"d":"2026-03-31","s":11,"t":"long down","top":0.3094,"bot":0.298},
{"d":"2026-03-31","s":12,"t":"long flat","top":0.3094,"bot":0.298},
{"d":"2026-04-10","s":12,"t":"long flat","top":0.3086,"bot":0.2988},
{"d":"2026-04-20","s":12,"t":"long flat","top":0.3094,"bot":0.3012},
{"d":"2026-04-28","s":12,"t":"long flat","top":0.3118,"bot":0.3053},
{"d":"2026-05-07","s":12,"t":"long flat","top":0.3151,"bot":0.3094},
{"d":"2024-11-22","s":21,"t":"short down","top":0.3673,"bot":0.3624},
{"d":"2024-11-27","s":21,"t":"short down","top":0.3641,"bot":0.3567},
{"d":"2024-12-02","s":21,"t":"short down","top":0.3551,"bot":0.3445},
{"d":"2024-12-05","s":21,"t":"short down","top":0.3445,"bot":0.3306},
{"d":"2024-12-10","s":21,"t":"short down","top":0.3363,"bot":0.3184},
{"d":"2024-12-13","s":21,"t":"short down","top":0.3241,"bot":0.3078},
{"d":"2024-12-18","s":21,"t":"short down","top":0.3143,"bot":0.298},
{"d":"2024-12-23","s":21,"t":"short down","top":0.3061,"bot":0.2898},
{"d":"2024-12-30","s":21,"t":"short down","top":0.3004,"bot":0.2857},
{"d":"2025-01-02","s":21,"t":"short down","top":0.2971,"bot":0.2841},
{"d":"2025-01-02","s":22,"t":"short flat","top":0.2971,"bot":0.2841},
{"d":"2025-01-07","s":22,"t":"short flat","top":0.3004,"bot":0.2873},
{"d":"2025-01-13","s":22,"t":"short flat","top":0.3037,"bot":0.2922},
{"d":"2025-01-16","s":22,"t":"short flat","top":0.3061,"bot":0.2971},
{"d":"2025-01-21","s":22,"t":"short flat","top":0.3102,"bot":0.3037},
{"d":"2025-01-21","s":23,"t":"short up","top":0.3102,"bot":0.3037},
{"d":"2025-01-24","s":23,"t":"short up","top":0.3151,"bot":0.3102},
{"d":"2025-01-31","s":23,"t":"short up","top":0.3216,"bot":0.3167},
{"d":"2025-02-06","s":23,"t":"short up","top":0.3249,"bot":0.3208},
{"d":"2025-02-06","s":24,"t":"short flat","top":0.3249,"bot":0.3208},
{"d":"2025-02-12","s":24,"t":"short flat","top":0.3265,"bot":0.3216},
{"d":"2025-02-18","s":24,"t":"short flat","top":0.3249,"bot":0.32},
{"d":"2025-02-18","s":25,"t":"short down","top":0.3249,"bot":0.32},
{"d":"2025-02-24","s":25,"t":"short down","top":0.32,"bot":0.3135},
{"d":"2025-02-28","s":25,"t":"short down","top":0.3118,"bot":0.3004},
{"d":"2025-03-06","s":25,"t":"short down","top":0.302,"bot":0.289},
{"d":"2025-03-12","s":25,"t":"short down","top":0.2955,"bot":0.2824},
{"d":"2025-03-18","s":25,"t":"short down","top":0.2914,"bot":0.28},
{"d":"2025-03-24","s":25,"t":"short down","top":0.2873,"bot":0.2759},
{"d":"2025-03-28","s":25,"t":"short down","top":0.2833,"bot":0.2694},
{"d":"2025-04-03","s":25,"t":"short down","top":0.2792,"bot":0.2596},
{"d":"2025-04-09","s":25,"t":"short down","top":0.2669,"bot":0.249},
{"d":"2025-04-15","s":25,"t":"short down","top":0.2596,"bot":0.2449},
{"d":"2025-04-22","s":25,"t":"short down","top":0.2563,"bot":0.2433},
{"d":"2025-04-22","s":26,"t":"short flat","top":0.2563,"bot":0.2433},
{"d":"2025-04-30","s":26,"t":"short flat","top":0.2588,"bot":0.2465},
{"d":"2025-05-08","s":26,"t":"short flat","top":0.2612,"bot":0.2506},
{"d":"2025-05-15","s":26,"t":"short flat","top":0.262,"bot":0.2531},
{"d":"2025-05-19","s":26,"t":"short flat","top":0.2625,"bot":0.2565},
{"d":"2025-05-19","s":27,"t":"short up","top":0.2625,"bot":0.2565},
{"d":"2025-05-23","s":27,"t":"short up","top":0.2637,"bot":0.2604},
{"d":"2025-05-23","s":28,"t":"short flat","top":0.2637,"bot":0.2604},
{"d":"2025-05-29","s":28,"t":"short flat","top":0.2653,"bot":0.2612},
{"d":"2025-05-29","s":29,"t":"short up","top":0.2653,"bot":0.2612},
{"d":"2025-06-03","s":29,"t":"short up","top":0.2735,"bot":0.2637},
{"d":"2025-06-06","s":29,"t":"short up","top":0.2857,"bot":0.2694},
{"d":"2025-06-12","s":29,"t":"short up","top":0.302,"bot":0.2816},
{"d":"2025-06-17","s":29,"t":"short up","top":0.3184,"bot":0.2922},
{"d":"2025-06-20","s":29,"t":"short up","top":0.3347,"bot":0.3037},
{"d":"2025-06-25","s":29,"t":"short up","top":0.351,"bot":0.3167},
{"d":"2025-06-30","s":29,"t":"short up","top":0.3673,"bot":0.3306},
{"d":"2025-07-03","s":29,"t":"short up","top":0.382,"bot":0.3445},
{"d":"2025-07-08","s":29,"t":"short up","top":0.3943,"bot":0.3551},
{"d":"2025-07-11","s":29,"t":"short up","top":0.4057,"bot":0.3673},
{"d":"2025-07-16","s":29,"t":"short up","top":0.418,"bot":0.382},
{"d":"2025-07-21","s":29,"t":"short up","top":0.4302,"bot":0.4041},
{"d":"2025-07-24","s":29,"t":"short up","top":0.4424,"bot":0.418},
{"d":"2025-07-29","s":29,"t":"short up","top":0.4506,"bot":0.4261},
{"d":"2025-08-01","s":29,"t":"short up","top":0.4547,"bot":0.431},
{"d":"2025-08-06","s":29,"t":"short up","top":0.4571,"bot":0.4343},
{"d":"2025-08-11","s":29,"t":"short up","top":0.4612,"bot":0.4408},
{"d":"2025-08-14","s":29,"t":"short up","top":0.4678,"bot":0.4473},
{"d":"2025-08-18","s":29,"t":"short up","top":0.4702,"bot":0.4514},
{"d":"2025-08-18","s":30,"t":"short flat","top":0.4702,"bot":0.4514},
{"d":"2025-08-21","s":30,"t":"short flat","top":0.4531,"bot":0.4408},
{"d":"2025-08-26","s":30,"t":"short flat","top":0.4367,"bot":0.4245},
{"d":"2025-08-26","s":31,"t":"short down","top":0.4367,"bot":0.4245},
{"d":"2025-09-01","s":31,"t":"short down","top":0.4204,"bot":0.4082},
{"d":"2025-09-05","s":31,"t":"short down","top":0.4082,"bot":0.3959},
{"d":"2025-09-11","s":31,"t":"short down","top":0.4016,"bot":0.3894},
{"d":"2025-09-17","s":31,"t":"short down","top":0.3959,"bot":0.382},
{"d":"2025-09-23","s":31,"t":"short down","top":0.3878,"bot":0.3714},
{"d":"2025-09-29","s":31,"t":"short down","top":0.3755,"bot":0.3576},
{"d":"2025-10-03","s":31,"t":"short down","top":0.3616,"bot":0.3412},
{"d":"2025-10-09","s":31,"t":"short down","top":0.3469,"bot":0.3265},
{"d":"2025-10-15","s":31,"t":"short down","top":0.3331,"bot":0.3118},
{"d":"2025-10-21","s":31,"t":"short down","top":0.32,"bot":0.2988},
{"d":"2025-10-27","s":31,"t":"short down","top":0.3086,"bot":0.2873},
{"d":"2025-10-31","s":31,"t":"short down","top":0.298,"bot":0.2776},
{"d":"2025-11-06","s":31,"t":"short down","top":0.2898,"bot":0.2694},
{"d":"2025-11-12","s":31,"t":"short down","top":0.2816,"bot":0.2637},
{"d":"2025-11-18","s":31,"t":"short down","top":0.2759,"bot":0.2588},
{"d":"2025-11-24","s":31,"t":"short down","top":0.2702,"bot":0.2547},
{"d":"2025-11-28","s":31,"t":"short down","top":0.2661,"bot":0.2514},
{"d":"2025-12-04","s":31,"t":"short down","top":0.2629,"bot":0.249},
{"d":"2025-12-10","s":31,"t":"short down","top":0.258,"bot":0.2433},
{"d":"2025-12-12","s":31,"t":"short down","top":0.2563,"bot":0.2441},
{"d":"2025-12-12","s":32,"t":"short flat","top":0.2563,"bot":0.2441},
{"d":"2025-12-18","s":32,"t":"short flat","top":0.2571,"bot":0.2465},
{"d":"2025-12-24","s":32,"t":"short flat","top":0.2588,"bot":0.2506},
{"d":"2025-12-31","s":32,"t":"short flat","top":0.2612,"bot":0.2563},
{"d":"2025-12-31","s":33,"t":"short up","top":0.2612,"bot":0.2563},
{"d":"2026-01-06","s":33,"t":"short up","top":0.2678,"bot":0.2596},
{"d":"2026-01-09","s":33,"t":"short up","top":0.2792,"bot":0.2678},
{"d":"2026-01-14","s":33,"t":"short up","top":0.2873,"bot":0.2776},
{"d":"2026-01-19","s":33,"t":"short up","top":0.3004,"bot":0.2857},
{"d":"2026-01-22","s":33,"t":"short up","top":0.3102,"bot":0.2955},
{"d":"2026-01-28","s":33,"t":"short up","top":0.3184,"bot":0.3037},
{"d":"2026-02-02","s":33,"t":"short up","top":0.3224,"bot":0.3102},
{"d":"2026-02-02","s":34,"t":"short down","top":0.3224,"bot":0.3102},
{"d":"2026-02-05","s":34,"t":"short down","top":0.3184,"bot":0.3061},
{"d":"2026-02-10","s":34,"t":"short down","top":0.3118,"bot":0.2996},
{"d":"2026-02-13","s":34,"t":"short down","top":0.3045,"bot":0.2922},
{"d":"2026-02-18","s":34,"t":"short down","top":0.2971,"bot":0.2857},
{"d":"2026-02-23","s":34,"t":"short down","top":0.2906,"bot":0.28},
{"d":"2026-02-26","s":34,"t":"short down","top":0.2857,"bot":0.2759},
{"d":"2026-03-03","s":34,"t":"short down","top":0.2824,"bot":0.2735},
{"d":"2026-03-03","s":35,"t":"short flat","top":0.2824,"bot":0.2735},
{"d":"2026-03-10","s":35,"t":"short flat","top":0.2808,"bot":0.2735},
{"d":"2026-03-17","s":35,"t":"short flat","top":0.28,"bot":0.2743},
{"d":"2026-03-24","s":35,"t":"short flat","top":0.2808,"bot":0.2759},
{"d":"2026-03-31","s":35,"t":"short flat","top":0.2833,"bot":0.2792},
{"d":"2026-03-31","s":36,"t":"short up","top":0.2833,"bot":0.2792},
{"d":"2026-04-07","s":36,"t":"short up","top":0.2898,"bot":0.2816},
{"d":"2026-04-10","s":36,"t":"short up","top":0.3004,"bot":0.289},
{"d":"2026-04-15","s":36,"t":"short up","top":0.3118,"bot":0.2955},
{"d":"2026-04-20","s":36,"t":"short up","top":0.3224,"bot":0.3061},
{"d":"2026-04-23","s":36,"t":"short up","top":0.3306,"bot":0.3143},
{"d":"2026-04-28","s":36,"t":"short up","top":0.338,"bot":0.32},
{"d":"2026-05-01","s":36,"t":"short up","top":0.3429,"bot":0.3282},
{"d":"2026-05-07","s":36,"t":"short up","top":0.351,"bot":0.3347}
],
"m": [
{"d":"2024-11-20","m":0.42},
{"d":"2025-06-12","m":0.5},
{"d":"2025-06-30","m":0.6},
{"d":"2025-07-16","m":0.8},
{"d":"2025-08-01","m":1.1},
{"d":"2025-08-19","m":1.5},
{"d":"2025-08-29","m":1.9},
{"d":"2025-09-15","m":2.0},
{"d":"2025-10-28","m":2.0},
{"d":"2025-11-03","m":1.7},
{"d":"2025-11-27","m":1.4},
{"d":"2025-12-29","m":1.3},
{"d":"2026-01-19","m":1.7},
{"d":"2026-02-13","m":1.7},
{"d":"2026-02-25","m":1.5},
{"d":"2026-03-11","m":1.6},
{"d":"2026-04-08","m":1.55},
{"d":"2026-04-10","m":1.0},
{"d":"2026-05-07","m":1.0}
]
},
"vconcat": [
{
"width": 951, "height": 455,
"title": {"text": "Amaero Ltd Ordinary (3DA) - Daily", "anchor": "start", "frame": "group", "offset": -13, "dx": 2, "fontSize": 11, "fontWeight": "bold", "font": "Liberation Sans", "color": "#000"},
"encoding": {"x": {"field": "d", "type": "ordinal", "title": null, "scale": {"type": "point", "padding": 0, "range": [1.9, 924.2]},
 "axis": {"orient": "bottom", "title": null, "values": ["2024-12-02","2025-01-02","2025-02-03","2025-03-03","2025-04-01","2025-05-01","2025-06-02","2025-07-01","2025-08-01","2025-09-01","2025-10-01","2025-11-03","2025-12-01","2026-01-02","2026-02-02","2026-03-02","2026-04-01","2026-05-01"],
 "labelExpr": "slice(datum.value,5,7)=='01' ? slice(datum.value,0,4) : ['Jan','Feb','Mar','Apr','May','Jun','Jul','Aug','Sep','Oct','Nov','Dec'][toNumber(slice(datum.value,5,7))-1]",
 "labelAlign": "left", "labelOffset": 2, "labelAngle": 0, "labelPadding": 1, "tickSize": 3, "tickColor": "#666", "domainColor": "#a0a0a0", "domainWidth": 2}}},
"layer": [
{"data": {"name": "b"}, "transform": [{"filter": "datum.s < 20"}],
 "mark": {"type": "area", "interpolate": "monotone", "opacity": 1},
 "encoding": {"y": {"field": "top", "type": "quantitative", "title": null, "stack": null, "scale": {"domain": [0.1837, 0.5551], "nice": false, "zero": false},
   "axis": {"orient": "right", "title": null, "values": [0.2,0.22,0.24,0.26,0.28,0.3,0.32,0.34,0.36,0.38,0.4,0.42,0.44,0.46,0.48,0.5,0.52,0.54], "format": ".2f", "tickSize": 3, "labelPadding": 41, "labelAlign": "right", "domainColor": "#888", "tickColor": "#888"}},
  "y2": {"field": "bot"},
  "color": {"field": "t", "type": "nominal", "legend": null, "scale": {"domain": ["long up","long flat","long down","short up","short flat","short down"], "range": ["#3cb371","#ff6619","#ff7b7b","#00f000","#ff6619","#ffb3b3"]}},
  "detail": {"field": "s", "type": "nominal"}}},
{"data": {"name": "b"}, "transform": [{"filter": "datum.s >= 20"}],
 "mark": {"type": "area", "interpolate": "monotone", "opacity": 1},
 "encoding": {"y": {"field": "top", "type": "quantitative", "title": null, "stack": null},
  "y2": {"field": "bot"},
  "color": {"field": "t", "type": "nominal", "legend": null},
  "detail": {"field": "s", "type": "nominal"}}},
{"data": {"name": "p"},
 "mark": {"type": "rule", "strokeWidth": 1},
 "encoding": {"y": {"field": "l", "type": "quantitative", "title": null}, "y2": {"field": "h"},
  "color": {"condition": {"test": "datum.c < datum.o", "value": "#000"}, "value": "#8c8c8c"}}},
{"data": {"name": "p"},
 "mark": {"type": "rule", "strokeWidth": 3},
 "encoding": {"y": {"field": "o", "type": "quantitative", "title": null}, "y2": {"field": "c"},
  "color": {"condition": {"test": "datum.c < datum.o", "value": "#000"}, "value": "#8c8c8c"}}},
{"data": {"name": "p"}, "transform": [{"filter": "datum.c > datum.o + 0.003"}],
 "mark": {"type": "rule", "strokeWidth": 1, "color": "#fff"},
 "encoding": {"y": {"field": "o", "type": "quantitative", "title": null}, "y2": {"field": "c"}}}
]
},
{
"width": 951, "height": 92,
"title": {"text": "Volume", "anchor": "start", "frame": "group", "offset": -13, "dx": 2, "fontSize": 11, "fontWeight": "bold", "font": "Liberation Sans", "color": "#8080c8"},
"encoding": {"x": {"field": "d", "type": "ordinal", "title": null, "scale": {"type": "point", "padding": 0, "range": [1.9, 924.2]},
 "axis": {"orient": "top", "title": null, "labels": false, "ticks": false, "domainColor": "#555", "domainWidth": 1}}},
"layer": [
{"data": {"name": "p"},
 "mark": {"type": "rule", "strokeWidth": 1.3, "color": "#8a8ad6"},
 "encoding": {"y": {"field": "v", "type": "quantitative", "title": null, "scale": {"domain": [-0.9, 15.5], "nice": false, "zero": false},
   "axis": {"orient": "right", "title": null, "values": [0, 5, 10], "labelExpr": "datum.value == 0 ? '0' : datum.value + 'M'", "tickSize": 3, "labelPadding": 41, "labelAlign": "right", "domainColor": "#888", "tickColor": "#888"}},
  "y2": {"datum": 0}}},
{"data": {"name": "m"},
 "mark": {"type": "line", "color": "#ff2a2a", "strokeWidth": 2, "interpolate": "step-after"},
 "encoding": {"y": {"field": "m", "type": "quantitative", "title": null}}}
]
}
]
}
